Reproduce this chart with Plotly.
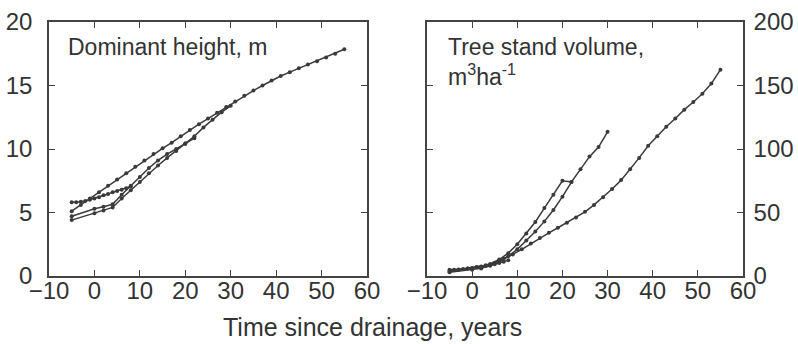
import plotly.graph_objects as go

# ---------------- data ----------------
yr_a = list(range(-5, 56, 2))
height_a = [5.1, 5.6, 6.1, 6.6, 7.1, 7.6, 8.1, 8.6, 9.1, 9.6, 10.05, 10.5, 11.0, 11.5, 11.95,
            12.4, 12.85, 13.3, 13.75, 14.2, 14.6, 15.0, 15.4, 15.75, 16.05, 16.35, 16.65,
            16.9, 17.2, 17.5, 17.85]
volume_a = [4, 5, 6, 7, 8.5, 10.5, 13.5, 17, 21, 25.5, 30, 34, 38, 42, 46, 50.5, 56, 62,
            68.5, 75.5, 84, 93, 102.5, 110, 117.5, 124, 131, 137, 143.5, 151.5, 162.5]

yr_b = [-5, 0, 2, 4, 6, 8, 10, 12, 14, 16, 18, 20, 22, 24, 26, 28, 30]
height_b = [4.4, 4.95, 5.15, 5.4, 6.1, 6.75, 7.4, 8.1, 8.7, 9.3, 9.85, 10.4, 11.0, 11.7,
            12.3, 12.9, 13.4]
volume_b = [4, 6, 7.5, 9.5, 13, 18, 25, 33.5, 42.5, 53.5, 64, 75, 74, 84, 94, 101.5, 113.5]

yr_c = [-5, 0, 2, 4, 6, 8, 10, 12, 14, 16, 18, 20, 22]
height_c = [4.7, 5.3, 5.45, 5.65, 6.4, 7.1, 7.8, 8.5, 9.1, 9.6, 10.0, 10.45, 10.85]
volume_c = [3, 5, 6, 8, 11, 15.5, 21, 28, 35, 43, 52, 62.5, 74]

yr_d = list(range(-5, 9))
height_d = [5.8, 5.8, 5.85, 5.9, 6.0, 6.1, 6.2, 6.35, 6.45, 6.6, 6.7, 6.8, 6.9, 7.05]
volume_d = [5, 5, 5.2, 5.5, 6, 6.3, 6.8, 7.3, 7.8, 8.5, 9.3, 10.2, 11.3, 12.5]

x_ticks = [-10, 0, 10, 20, 30, 40, 50, 60]
height_ticks = [0, 5, 10, 15, 20]
volume_ticks = [0, 50, 100, 150, 200]

# ---------------- figure ----------------
W, H = 798, 344
INK = "#3a3a3a"
FONT = "Liberation Sans, Arial, sans-serif"

fig = go.Figure()
left_series = [(yr_a, height_a), (yr_b, height_b), (yr_c, height_c), (yr_d, height_d)]
right_series = [(yr_a, volume_a), (yr_b, volume_b), (yr_c, volume_c), (yr_d, volume_d)]
for xs, ys in left_series:
    fig.add_trace(go.Scatter(x=xs, y=ys, mode="lines+markers", xaxis="x", yaxis="y",
                             line=dict(color=INK, width=1.5),
                             marker=dict(color=INK, size=4), showlegend=False))
for xs, ys in right_series:
    fig.add_trace(go.Scatter(x=xs, y=ys, mode="lines+markers", xaxis="x2", yaxis="y2",
                             line=dict(color=INK, width=1.5),
                             marker=dict(color=INK, size=4), showlegend=False))

ydom = [(H - 276) / H, (H - 22) / H]
common = dict(showline=True, linecolor="#444", linewidth=1.5, mirror="ticks",
              ticks="inside", ticklen=6, tickwidth=1.2, tickcolor="#444",
              showgrid=False, zeroline=False, automargin=False,
              tickfont=dict(family=FONT, size=24, color="#333"))

fig.update_layout(
    width=W, height=H,
    margin=dict(l=0, r=0, t=0, b=0, pad=0, autoexpand=False),
    paper_bgcolor="white", plot_bgcolor="white",
    font=dict(family=FONT, color="#333"),
    xaxis=dict(domain=[49 / W, 367 / W], range=[-10, 60], tickvals=x_ticks,
               anchor="y", ticklabelstandoff=-8, **common),
    yaxis=dict(domain=ydom, range=[0, 20], tickvals=height_ticks, anchor="x",
               ticklabelstandoff=10, **common),
    xaxis2=dict(domain=[427 / W, 743 / W], range=[-10, 60], tickvals=x_ticks,
                anchor="y2", ticklabelstandoff=-8, **common),
    yaxis2=dict(domain=ydom, range=[0, 200], tickvals=volume_ticks, anchor="x2",
                side="right", ticklabelstandoff=4, **common),
)

fig.add_annotation(text="Dominant height, m", xref="paper", yref="paper", align="left",
                   x=66 / W, y=1 - 32 / H, xanchor="left", yanchor="top",
                   showarrow=False, font=dict(family=FONT, size=23, color="#333"))
fig.add_annotation(text="Tree stand volume,<br>m<sup>3</sup>ha<sup>-1</sup>",
                   xref="paper", yref="paper", align="left",
                   x=446 / W, y=1 - 32 / H, xanchor="left", yanchor="top",
                   showarrow=False, font=dict(family=FONT, size=23, color="#333"))
fig.add_annotation(text="Time since drainage, years", xref="paper", yref="paper",
                   x=372 / W, y=1 - 343 / H, xanchor="center", yanchor="bottom",
                   showarrow=False, font=dict(family=FONT, size=25, color="#333"))

fig.write_html("out.html")
